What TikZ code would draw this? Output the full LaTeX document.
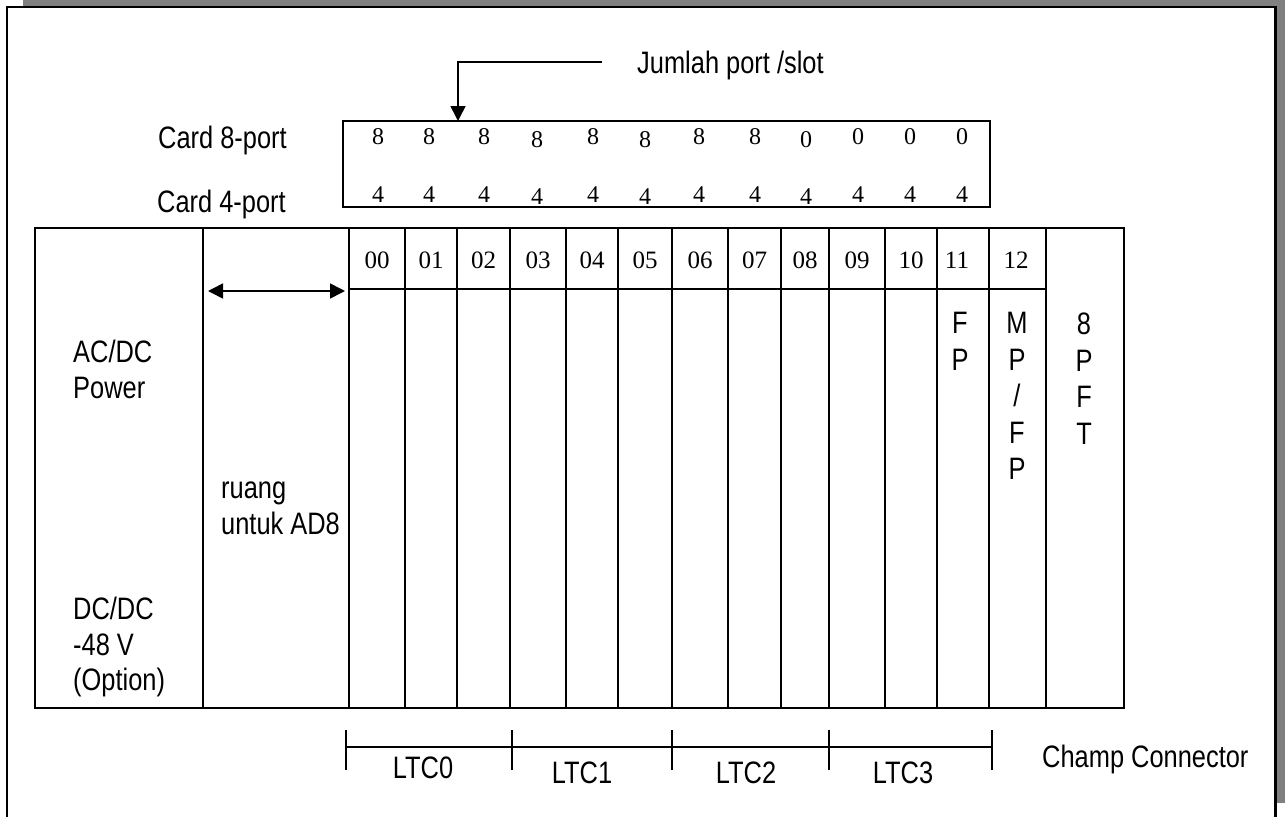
\documentclass[tikz,border=0pt]{standalone}
\usepackage{fontspec}
\setmainfont{Liberation Sans}[FakeStretch=0.82]
\newfontfamily\numfont{Liberation Serif}
\usetikzlibrary{arrows.meta}
\begin{document}
\begin{tikzpicture}[x=1pt,y=-1pt,
  ln/.style={line width=1.6pt},
  frameline/.style={line width=2.3pt},
  lbl/.style={font=\fontsize{31}{35.5}\selectfont,inner sep=0pt},
  vlbl/.style={font=\fontsize{31}{36.5}\selectfont,inner sep=0pt,align=center,anchor=north},
  portnum/.style={font=\numfont\fontsize{24}{26}\selectfont,inner sep=0pt,anchor=base},
  slotnum/.style={font=\numfont\fontsize{25}{27}\selectfont,inner sep=0pt,anchor=base},
  tip/.style={-{Triangle[length=15pt,width=15pt]}},
  dtip/.style={{Triangle[length=15pt,width=15pt]}-{Triangle[length=15pt,width=15pt]}}
]
\useasboundingbox (0,0) rectangle (1285,817);
% shadow and frame
\fill[gray] (23,0) rectangle (1285,6.5);
\fill[gray] (1276.5,0) rectangle (1285,803);
\draw[frameline] (7,817) -- (7,7) -- (1275.5,7) -- (1275.5,817);

% port table
\draw[ln] (343,121) rectangle (990,207);
\node[lbl,anchor=base east] (c8) at (287,148) {Card 8-port};
\node[lbl,anchor=base east] (c4) at (286,212) {Card 4-port};
\foreach \x/\v/\d [count=\i] in {378/8/0,429/8/0,484/8/0,537/8/3,593/8/0,645/8/3,699/8/0,755/8/0,806/0/3,858/0/0,910/0/0,962/0/0}{
  \node[portnum] (p8-\i) at (\x,144+\d) {\v};
  \node[portnum] (p4-\i) at (\x,202+\d*0.7) {4};
}
\node[lbl,anchor=base west] (jml) at (637,73) {Jumlah port /slot};
\coordinate (jstart) at (602,62);
\coordinate (jend) at (458,121);
\draw[ln,tip] (jstart) -| (jend);

% chassis
\draw[ln] (35,228) rectangle (1124,708);
\draw[ln] (203,228) -- (203,708);
\foreach \x in {349,405,457,510,566,618,672,728,781,829,885,937,989,1046}{
  \draw[ln] (\x,227) -- (\x,708);
}
\draw[ln] (349,289) -- (1046,289);
\foreach \x/\t in {377/00,431/01,483.5/02,538/03,592/04,645/05,700/06,754.5/07,805/08,857/09,911/10,957/11,1016/12}{
  \node[slotnum] (s\t) at (\x,268) {\t};
}
\node[vlbl] (fp) at (960,312) {F\\P};
\node[vlbl] (mpfp) at (1017,312) {M\\P\\/\\F\\P};
\node[vlbl] (pft) at (1084,313) {8\\P\\F\\T};

\node[lbl,anchor=north west,align=left] (acdc) at (73,340) {AC/DC\\Power};
\node[lbl,anchor=north west,align=left] (ruang) at (221,482) {ruang\\untuk AD8};
\node[lbl,anchor=north west,align=left] (dcdc) at (73,597) {DC/DC\\-48 V\\(Option)};
\coordinate (ad1) at (208,291);
\coordinate (ad2) at (345,291);
\draw[ln,dtip] (ad1) -- (ad2);

% LTC bracket
\coordinate (b0) at (346,747);
\coordinate (b1) at (512,747);
\coordinate (b2) at (672,747);
\coordinate (b3) at (829,747);
\coordinate (b4) at (992,747);
\draw[ln] (b0) -- (b4);
\foreach \b in {b0,b1,b2,b3,b4}{
  \draw[ln] ([yshift=-23pt]\b) -- ([yshift=17pt]\b);
}
\node[lbl,anchor=base] (ltc0) at (423,778) {LTC0};
\node[lbl,anchor=base] (ltc1) at (582,783) {LTC1};
\node[lbl,anchor=base] (ltc2) at (746,783) {LTC2};
\node[lbl,anchor=base] (ltc3) at (903,783) {LTC3};
\node[lbl,anchor=base west] (champ) at (1042,767) {Champ Connector};
\end{tikzpicture}
\end{document}
